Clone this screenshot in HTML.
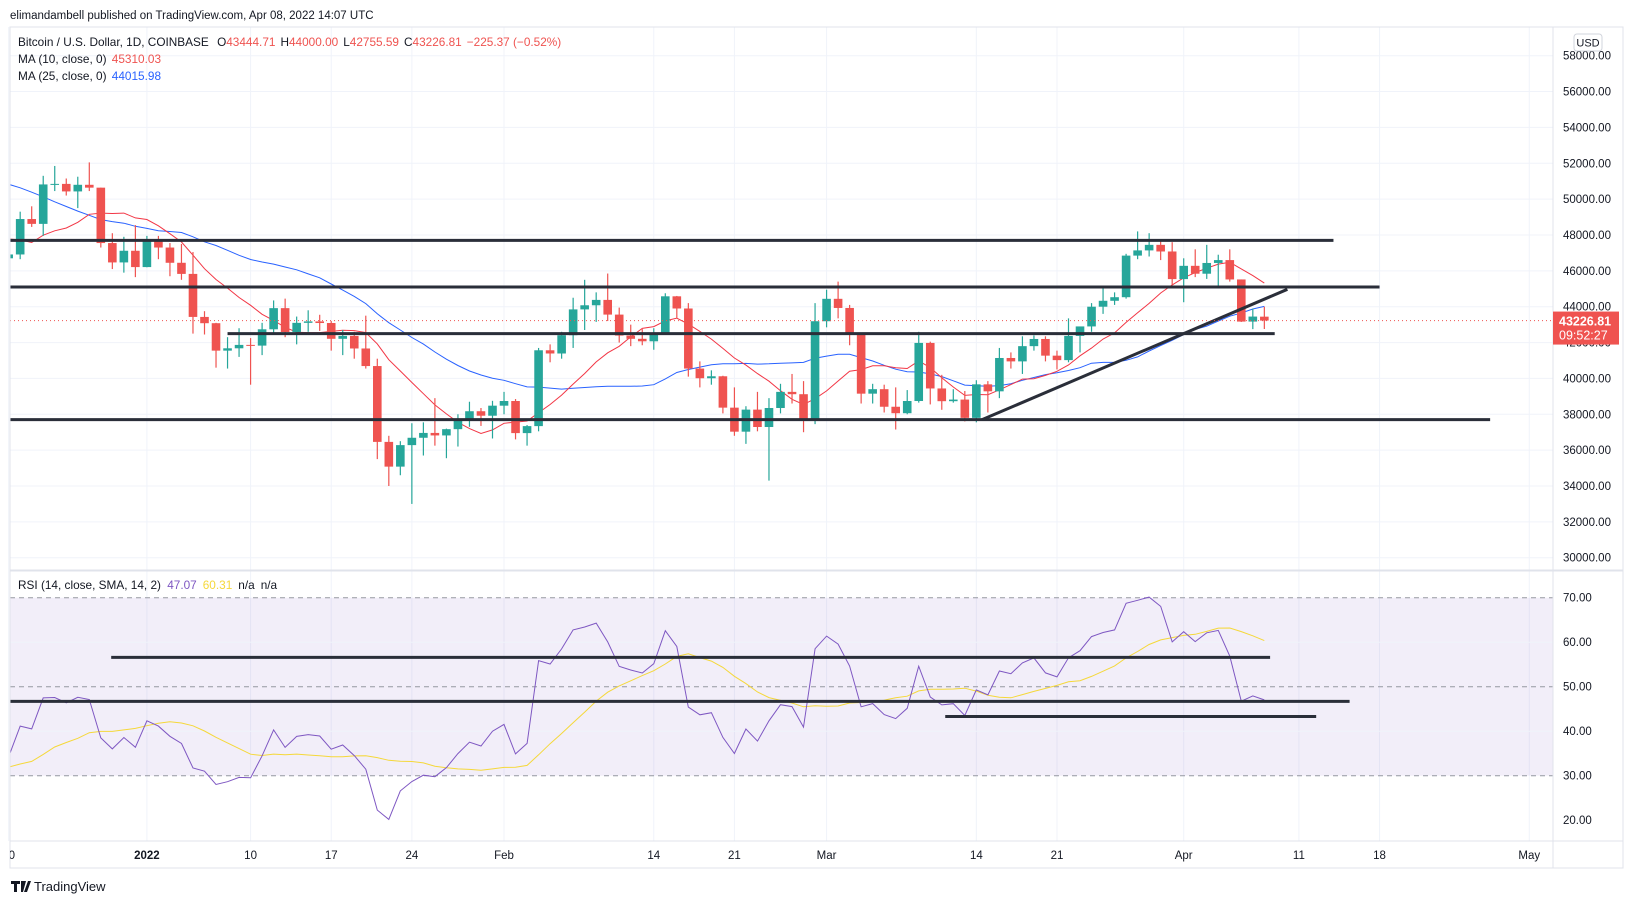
<!DOCTYPE html>
<html><head><meta charset="utf-8">
<style>
html,body{margin:0;padding:0;background:#fff;}
svg{display:block;font-family:"Liberation Sans",sans-serif;}
</style></head>
<body>
<svg id="chart" width="1633" height="904" viewBox="0 0 1633 904" xmlns="http://www.w3.org/2000/svg">
<defs>
<clipPath id="pc"><rect x="10" y="27" width="1543" height="543"/></clipPath>
<clipPath id="rc"><rect x="10" y="571" width="1543" height="270"/></clipPath>
<clipPath id="tc"><rect x="10" y="841" width="1543" height="27"/></clipPath>
</defs>
<rect x="0" y="0" width="1633" height="904" fill="#fff"/>
<text x="10" y="19" font-size="11.5" fill="#131722">elimandambell published on TradingView.com, Apr 08, 2022 14:07 UTC</text>
<g id="grid"></g>
<rect id="band" x="10" fill="rgba(126,87,194,0.1)" width="1543"/>
<g id="rsiGuides"></g>
<g id="price" clip-path="url(#pc)"></g>
<g id="rsi" clip-path="url(#rc)"></g>
<rect x="10" y="27" width="1613" height="841" fill="none" stroke="#e0e3eb"/>
<line x1="10" y1="570.5" x2="1623" y2="570.5" stroke="#e0e3eb" stroke-width="2"/>
<line x1="10" y1="841" x2="1623" y2="841" stroke="#e0e3eb"/>
<line x1="1553" y1="27" x2="1553" y2="868" stroke="#e0e3eb"/>
<g id="axes"></g>
<g>
<text x="18" y="46" font-size="11.8" fill="#131722">Bitcoin / U.S. Dollar, 1D, COINBASE <tspan dx="5">O</tspan><tspan fill="#ef5350">43444.71</tspan><tspan dx="5">H</tspan><tspan fill="#ef5350">44000.00</tspan><tspan dx="5">L</tspan><tspan fill="#ef5350">42755.59</tspan><tspan dx="5">C</tspan><tspan fill="#ef5350">43226.81</tspan><tspan dx="5" fill="#ef5350">−225.37 (−0.52%)</tspan></text>
<text x="18" y="63" font-size="11.8" fill="#131722">MA (10, close, 0) <tspan dx="2" fill="#ef5350">45310.03</tspan></text>
<text x="18" y="80" font-size="11.8" fill="#131722">MA (25, close, 0) <tspan dx="2" fill="#2962ff">44015.98</tspan></text>
</g>
<text x="18" y="589" font-size="11.8" fill="#131722">RSI (14, close, SMA, 14, 2) <tspan dx="3" fill="#7e57c2">47.07</tspan><tspan dx="6" fill="#f5d83a">60.31</tspan><tspan dx="6">n/a</tspan><tspan dx="6">n/a</tspan></text>
<g><rect x="1574" y="34" width="28" height="17" rx="3" fill="#fff" stroke="#d1d4dc"/><text x="1588" y="46.5" font-size="11" text-anchor="middle" fill="#131722">USD</text></g>
<g>
<path d="M11 881h9v3h-3v8h-3v-8h-3z M21 881h5l-3 11h-2z M24 892l4-11h3l-4 11z" fill="#131722"/>
<text x="34" y="891" font-size="13" fill="#131722">TradingView</text>
</g>
</svg>
<script>
const priorCloses=[58960,53730,54720,57270,57810,56950,57180,56490,53600,49200,49400,50580,50620,50500,47650,47140,49390,50100,46720,48380,48880,47640,46200,46850,46700];
const opens=[46700,46914,48890,48620,50820,50850,50430,50800,50640,47550,46470,47120,
46210,47740,47300,46450,45830,43430,43080,41550,41680,41870,41830,42740,43920,42590,43100,43180,43090,42210,42370,41670,40690,36460,35080,36280,36690,36960,36820,37170,37720,38170,37920,
38480,38740,36950,37340,41570,41390,42410,43850,44080,44380,43560,42390,42210,42070,42560,44580,43900,40550,40010,40120,38370,37030,38260,37290,38350,39250,39120,37720,
43190,44440,43930,42470,39150,39400,38420,38060,38740,41980,39440,38730,38820,37800,39670,39280,41140,40950,41800,42200,41270,41020,42370,42900,44000,44330,44530,46850,47140,47450,47080,
45540,46280,45840,46440,46600,45520,43170,43445];
const highs=[47500,49300,49600,51300,51850,51150,51250,52050,50640,48100,47900,48550,
47950,47950,47550,47500,47050,43750,43100,42300,42800,42250,43100,44350,44450,43450,43800,43550,43200,42700,42600,43500,41100,36800,36500,37500,37550,38900,37200,38000,38700,38350,38750,
39250,38850,37400,41700,41900,42600,44500,45500,44800,45850,43950,43000,42750,42800,44750,44600,44200,40950,40450,40150,39500,38450,39250,38900,39700,40250,39850,44200,
44950,45400,44100,42500,39700,39650,39500,39350,42600,42050,40200,39400,39300,39900,39850,41700,41450,42350,42400,42350,41550,43350,42850,44200,45100,44800,46950,48200,48100,47700,47600,
46700,47200,47450,46900,47200,45520,43900,44000];
const lows=[45600,46650,48450,47950,50450,50200,49500,50450,47300,46100,45900,45650,
46200,46650,45700,45500,42500,42450,40600,40550,41200,39650,41300,42500,42300,41900,42600,42650,41550,41300,41100,40550,35500,34000,34600,33000,35700,36250,35550,36200,37300,37350,36650,
38000,36600,36250,37050,40900,41100,41700,42700,43150,43200,42000,41800,41850,41600,42450,43350,40100,39500,39650,38050,36800,36350,37050,34300,38050,38600,37000,37450,
42850,43350,41850,38600,38600,38100,37150,38000,38650,38550,38250,38650,37600,37550,38100,38900,40550,40250,41550,40950,40500,40900,41450,42600,43600,44100,44450,46650,46800,46600,45200,
44250,45650,45550,45150,45400,43150,42750,42756];
const closes=[46914,48890,48620,50820,50850,50430,50800,50640,47550,46470,47120,46210,
47740,47300,46450,45830,43430,43080,41550,41680,41870,41830,42740,43920,42590,43100,43180,43090,42210,42370,41670,40690,36460,35080,36280,36690,36960,36820,37170,37720,38170,37920,38480,
38740,36950,37340,41570,41390,42410,43850,44080,44380,43560,42390,42210,42070,42560,44580,43900,40550,40010,40120,38370,37030,38260,37290,38350,39250,39120,37720,43190,
44440,43930,42470,39150,39400,38420,38060,38740,41980,39440,38730,38820,37800,39670,39280,41140,40950,41800,42200,41270,41020,42370,42900,44000,44330,44530,46850,47140,47450,47080,45540,
46280,45840,46440,46600,45520,43170,43450,43227];
const firstDay=-12;
const lastPrice=43226.81;
const priceTicks=[58000,56000,54000,52000,50000,48000,46000,44000,42000,40000,38000,36000,34000,32000,30000];
const rsiTicks=[70,60,50,40,30,20];
const tickDays=[-12,0,9,16,23,31,44,51,59,72,79,90,100,107,120];
const tickLabels=['20','2022','10','17','24','Feb','14','21','Mar','14','21','Apr','11','18','May'];
const levelPrices=[47700,45100,42500,37700];
const levelStart=[-13,-13,7,-13];
const levelEnd=[103,107,97.9,116.6];
const trendDays=[72.5,99];
const trendPrices=[37700,44970];
const rsiLevels=[56.6,46.7,43.3];
const rsiLevelStart=[-3.1,-13,69.3];
const rsiLevelEnd=[97.5,104.4,101.5];

const NS='http://www.w3.org/2000/svg';
const X=d=>146.9+11.52*d;
const Y=p=>55.7+(58000-p)*0.017929;
const RY=v=>597.7+(70-v)*4.45;
function mk(tag,attrs,parent){const e=document.createElementNS(NS,tag);for(const k in attrs)e.setAttribute(k,attrs[k]);parent.appendChild(e);return e;}
const grid=document.getElementById('grid'),price=document.getElementById('price'),rsiG=document.getElementById('rsi'),axes=document.getElementById('axes'),guides=document.getElementById('rsiGuides');

priceTicks.forEach(p=>{const l=mk('line',{x1:10,x2:1553,y1:Y(p),y2:Y(p),stroke:'#f0f3fa'},grid);


const t=mk('text',{x:1563,y:Y(p)+4,'font-size':11.5,fill:'#131722'},axes);t.textContent=p.toFixed(2);

});
tickDays.forEach((d,i)=>{const l=mk('line',{x1:X(d),x2:X(d),y1:27,y2:841,stroke:'#f0f3fa'},grid);


const t=mk('text',{x:X(d),y:859,'font-size':11.5,'text-anchor':'middle',fill:'#131722','font-weight':tickLabels[i]==='2022'?'bold':'normal','clip-path':'url(#tc)'},axes);t.textContent=tickLabels[i];

});
rsiTicks.forEach(v=>{const dashed=(v===70||v===50||v===30);
if(v!==20){const l=mk('line',{x1:10,x2:1553,y1:RY(v),y2:RY(v),stroke:dashed?'#9598a1':'#f0f3fa','stroke-dasharray':dashed?'5,4':'none'},guides);

}
const t=mk('text',{x:1563,y:RY(v)+4,'font-size':11.5,fill:'#131722'},axes);t.textContent=v.toFixed(2);

});
const band=document.getElementById('band');band.setAttribute('y',RY(70));band.setAttribute('height',RY(30)-RY(70));

const all=priorCloses.concat(closes);const off=priorCloses.length;
function ma(n){const pts=[];for(let i=0;i<closes.length;i++){const j=i+off;let s=0;for(let k=j-n+1;k<=j;k++)s+=all[k];pts.push([X(firstDay+i),Y(s/n)]);}return pts;}
const pathOf=pts=>pts.map((p,i)=>(i?'L':'M')+p[0].toFixed(1)+' '+p[1].toFixed(1)).join('');
const ma25=mk('path',{d:pathOf(ma(25)),fill:'none',stroke:'#2962ff','stroke-width':1},price);


const ma10=mk('path',{d:pathOf(ma(10)),fill:'none',stroke:'#f23645','stroke-width':1},price);



for(let i=0;i<closes.length;i++){const x=X(firstDay+i),up=closes[i]>=opens[i],c=up?'#26a69a':'#ef5350';
const g=mk('g',{},price);


mk('line',{x1:x,x2:x,y1:Y(highs[i]),y2:Y(lows[i]),stroke:c,'stroke-width':1.2},g);
const t=Y(Math.max(opens[i],closes[i])),b=Y(Math.min(opens[i],closes[i]));
mk('rect',{x:x-4.3,y:t,width:8.6,height:Math.max(1,b-t),fill:c},g);}

levelPrices.forEach((p,i)=>{const l=mk('line',{x1:X(levelStart[i]),x2:X(levelEnd[i]),y1:Y(p),y2:Y(p),stroke:'#2a2e39','stroke-width':3},price);

});
const tl=mk('line',{x1:X(trendDays[0]),y1:Y(trendPrices[0]),x2:X(trendDays[1]),y2:Y(trendPrices[1]),stroke:'#2a2e39','stroke-width':3},price);


const pl=mk('line',{x1:10,x2:1553,y1:Y(lastPrice),y2:Y(lastPrice),stroke:'#ef5350','stroke-dasharray':'1,3'},price);


const lb=mk('g',{},axes);


mk('rect',{x:1553,y:Y(lastPrice)-9,width:66,height:33,fill:'#ef5350'},lb);
const t1=mk('text',{x:1559,y:Y(lastPrice)+5,'font-size':12.5,'font-weight':'bold',fill:'#fff'},lb);t1.textContent=lastPrice.toFixed(2);
const t2=mk('text',{x:1559,y:Y(lastPrice)+19,'font-size':12.5,fill:'#fff'},lb);t2.textContent='09:52:27';

const rsi=[];let ag=0,al=0;
for(let j=1;j<all.length;j++){const ch=all[j]-all[j-1],gn=Math.max(ch,0),ls=Math.max(-ch,0);
if(j<=14){ag+=gn/14;al+=ls/14;}else{ag=(ag*13+gn)/14;al=(al*13+ls)/14;}
rsi[j]=j>=14?(al===0?100:100-100/(1+ag/al)):null;}
const rp=[],sp=[];
for(let i=0;i<closes.length;i++){const j=i+off;rp.push([X(firstDay+i),RY(rsi[j])]);
let s=0,n=0;for(let k=j-13;k<=j;k++){if(rsi[k]!=null){s+=rsi[k];n++;}}if(n>0)sp.push([X(firstDay+i),RY(s/n)]);}
const smaL=mk('path',{d:pathOf(sp),fill:'none',stroke:'#f5d83a','stroke-width':1},rsiG);


const rsiL=mk('path',{d:pathOf(rp),fill:'none',stroke:'#7e57c2','stroke-width':1},rsiG);


rsiLevels.forEach((v,i)=>{const l=mk('line',{x1:X(rsiLevelStart[i]),x2:X(rsiLevelEnd[i]),y1:RY(v),y2:RY(v),stroke:'#2a2e39','stroke-width':3},rsiG);

});
</script>
</body></html>
